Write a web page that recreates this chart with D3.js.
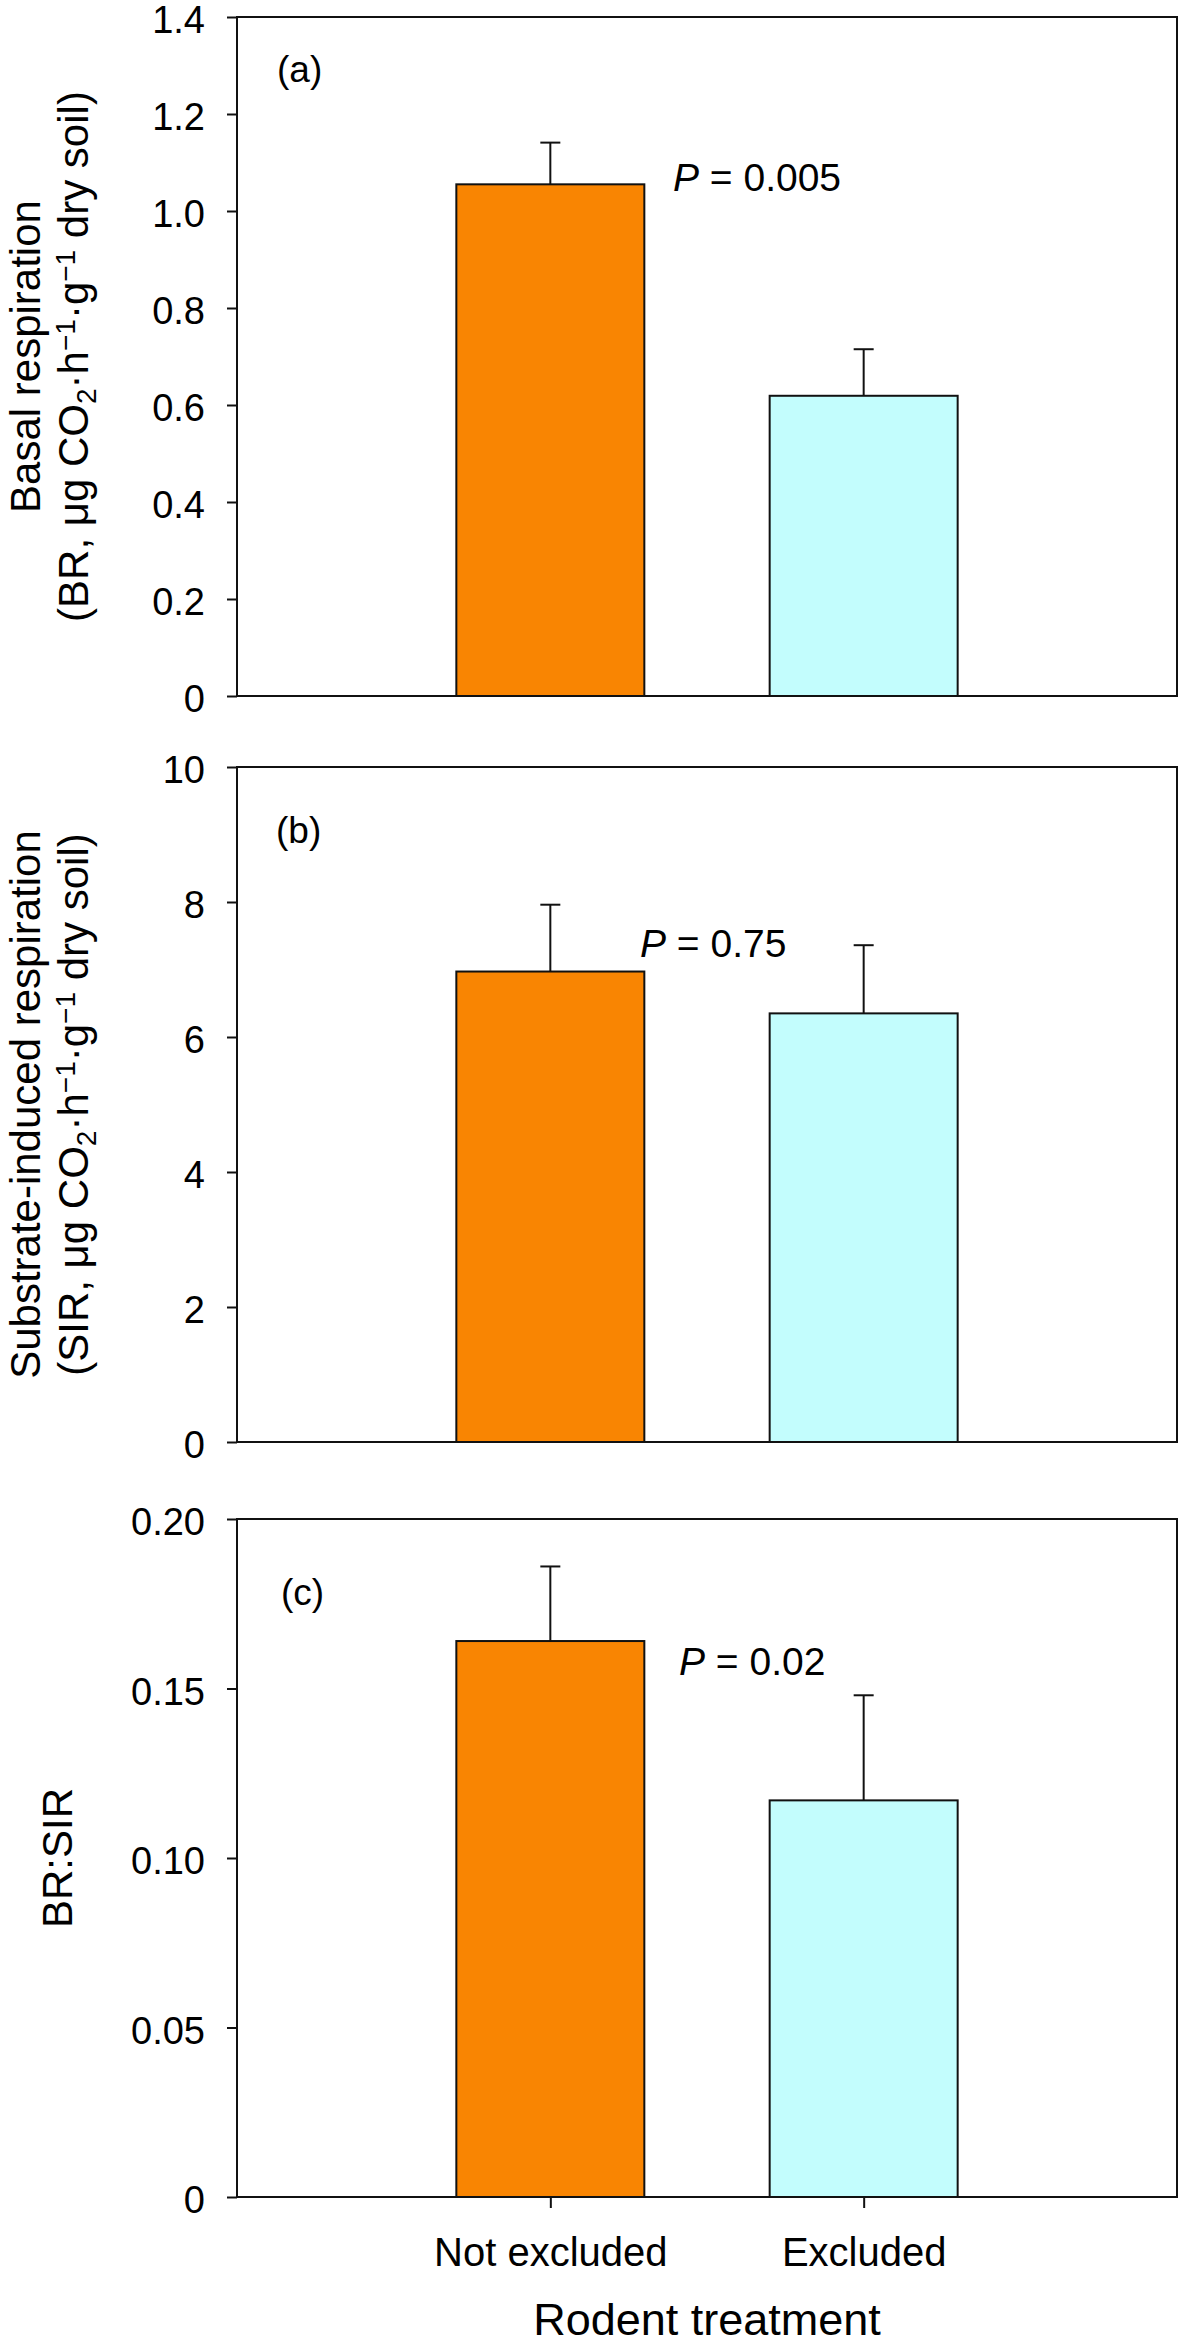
<!DOCTYPE html>
<html>
<head>
<meta charset="utf-8">
<script src="https://cdn.jsdelivr.net/npm/d3@7"></script>
<style>
  html, body { margin: 0; padding: 0; background: #fff; }
  svg { display: block; }
  text { font-family: "Liberation Sans", Arial, sans-serif; fill: #000; }
</style>
</head>
<body>
<svg id="chart" width="1181" height="2346"></svg>
<script>
// ---------------- data ----------------
const categories = ["Not excluded", "Excluded"];
const barColors = ["#F98502", "#C3FDFD"];

const brMeans = [1.055, 0.619];
const brErrors = [0.086, 0.096];

const sirMeans = [6.97, 6.35];
const sirErrors = [0.99, 1.01];

const ratioMeans = [0.164, 0.117];
const ratioErrors = [0.022, 0.031];

const brTicks = [0, 0.2, 0.4, 0.6, 0.8, 1.0, 1.2, 1.4];
const brTickLabels = ["0", "0.2", "0.4", "0.6", "0.8", "1.0", "1.2", "1.4"];
const sirTicks = [0, 2, 4, 6, 8, 10];
const sirTickLabels = ["0", "2", "4", "6", "8", "10"];
const ratioTicks = [0, 0.05, 0.10, 0.15, 0.20];
const ratioTickLabels = ["0", "0.05", "0.10", "0.15", "0.20"];

const panelLetters = ["(a)", "(b)", "(c)"];
const pValues = ["0.005", "0.75", "0.02"];
const xTitle = "Rodent treatment";

// ---------------- layout ----------------
const svg = d3.select("#chart");
svg.append("rect").attr("width", 1181).attr("height", 2346).attr("fill", "#fff");

const xLeft = 237, xRight = 1177;
const x = d3.scalePoint().domain(categories).range([xLeft, xRight]).padding(1);
const barW = x.step() * 0.6;

const panels = [
  { top: 17, bottom: 696, max: 1.4, ticks: brTicks, labels: brTickLabels,
    means: brMeans, errs: brErrors, letterPos: [277, 82], pPos: [673, 191],
    title: [[{t: "Basal respiration"}],
            [{t: "(BR, μg CO"}, {t: "2", sub: true}, {t: "·h"}, {t: "−1", sup: true},
             {t: "·g"}, {t: "−1", sup: true}, {t: " dry soil)"}]] },
  { top: 767, bottom: 1442, max: 10, ticks: sirTicks, labels: sirTickLabels,
    means: sirMeans, errs: sirErrors, letterPos: [276, 843], pPos: [640, 957],
    title: [[{t: "Substrate-induced respiration"}],
            [{t: "(SIR, μg CO"}, {t: "2", sub: true}, {t: "·h"}, {t: "−1", sup: true},
             {t: "·g"}, {t: "−1", sup: true}, {t: " dry soil)"}]] },
  { top: 1519, bottom: 2197, max: 0.20, ticks: ratioTicks, labels: ratioTickLabels,
    means: ratioMeans, errs: ratioErrors, letterPos: [281, 1605], pPos: [679, 1675],
    title: [[{t: "BR:SIR"}]] }
];

panels.forEach((p, i) => {
  const g = svg.append("g");
  const y = d3.scaleLinear().domain([0, p.max]).range([p.bottom, p.top]);

  // bars
  g.selectAll("rect.bar").data(categories).join("rect")
    .attr("class", "bar")
    .attr("x", d => x(d) - barW / 2)
    .attr("y", (d, j) => y(p.means[j]))
    .attr("width", barW)
    .attr("height", (d, j) => y(0) - y(p.means[j]))
    .attr("fill", (d, j) => barColors[j])
    .attr("stroke", "#111")
    .attr("stroke-width", 2);

  // error bars (upper only)
  g.selectAll("line.err").data(categories).join("line")
    .attr("class", "err")
    .attr("x1", d => x(d)).attr("x2", d => x(d))
    .attr("y1", (d, j) => y(p.means[j]))
    .attr("y2", (d, j) => y(p.means[j] + p.errs[j]))
    .attr("stroke", "#111").attr("stroke-width", 2);
  g.selectAll("line.cap").data(categories).join("line")
    .attr("class", "cap")
    .attr("x1", d => x(d) - 10).attr("x2", d => x(d) + 10)
    .attr("y1", (d, j) => y(p.means[j] + p.errs[j]))
    .attr("y2", (d, j) => y(p.means[j] + p.errs[j]))
    .attr("stroke", "#111").attr("stroke-width", 2);

  // frame
  g.append("rect")
    .attr("x", xLeft).attr("y", p.top)
    .attr("width", xRight - xLeft).attr("height", p.bottom - p.top)
    .attr("fill", "none").attr("stroke", "#111").attr("stroke-width", 2);

  // y axis
  const yAxis = d3.axisLeft(y)
    .tickValues(p.ticks)
    .tickFormat((d, k) => p.labels[k])
    .tickSize(10).tickPadding(22);
  const ya = g.append("g").attr("transform", `translate(${xLeft},0)`).call(yAxis);
  ya.select(".domain").remove();
  ya.selectAll(".tick line").attr("stroke", "#111").attr("stroke-width", 2);
  ya.selectAll(".tick text").attr("font-size", 38).attr("dy", "0.41em")
    .attr("font-family", "'Liberation Sans', Arial, sans-serif").attr("fill", "#000");

  // panel letter
  g.append("text").attr("x", p.letterPos[0]).attr("y", p.letterPos[1])
    .attr("font-size", 37).text(panelLetters[i]);

  // P value
  const pt = g.append("text").attr("x", p.pPos[0]).attr("y", p.pPos[1]).attr("font-size", 39);
  pt.append("tspan").attr("font-style", "italic").text("P");
  pt.append("tspan").text(" = " + pValues[i]);

  // y title
  const cy = (p.top + p.bottom) / 2;
  const lines = p.title;
  const baseXs = lines.length === 2 ? [40, 88] : [72];
  lines.forEach((parts, li) => {
    const t = g.append("text")
      .attr("transform", `translate(${baseXs[li]},${cy}) rotate(-90)`)
      .attr("text-anchor", "middle")
      .attr("font-size", 42);
    parts.forEach(part => {
      const ts = t.append("tspan").text(part.t);
      if (part.sub) ts.attr("font-size", 28).attr("baseline-shift", "-30%");
      else if (part.sup) ts.attr("font-size", 28).attr("baseline-shift", "45%");
    });
  });

  // x axis only on last panel
  if (i === panels.length - 1) {
    const xAxis = d3.axisBottom(x).tickSize(11).tickPadding(30);
    const xa = g.append("g").attr("transform", `translate(0,${p.bottom})`).call(xAxis);
    xa.select(".domain").remove();
    xa.selectAll(".tick line").attr("stroke", "#111").attr("stroke-width", 2);
    xa.selectAll(".tick text").attr("font-size", 40)
      .attr("font-family", "'Liberation Sans', Arial, sans-serif").attr("fill", "#000");
    svg.append("text")
      .attr("x", (xLeft + xRight) / 2).attr("y", 2335)
      .attr("text-anchor", "middle").attr("font-size", 45)
      .text(xTitle);
  }
});
</script>
</body>
</html>
